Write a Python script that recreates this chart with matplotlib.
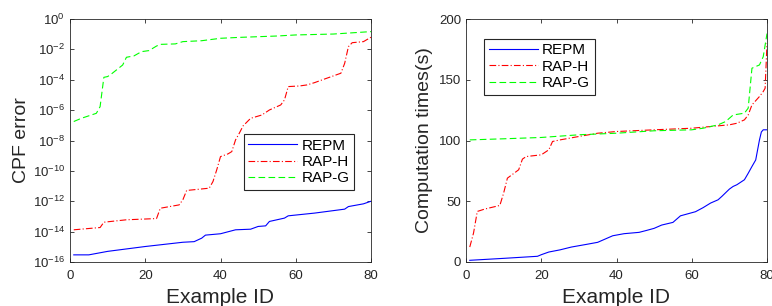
import matplotlib
matplotlib.use("Agg")
import matplotlib.pyplot as plt
import numpy as np

plt.rcParams['font.family'] = ['Liberation Sans', 'DejaVu Sans']
plt.rcParams['mathtext.fontset'] = 'custom'
plt.rcParams['mathtext.rm'] = 'Liberation Sans'
plt.rcParams['mathtext.it'] = 'Liberation Sans'

# ---- Left panel: CPF error (log10 exponents) ----
repm_err_x = [1, 5, 10, 20, 30, 33, 35, 36, 40, 44, 48, 50, 52, 53, 57, 58, 65, 73, 74, 78, 80]
repm_err_e = [-15.53, -15.53, -15.3, -14.98, -14.7, -14.66, -14.43, -14.23, -14.14, -13.88, -13.84,
              -13.66, -13.62, -13.33, -13.11, -12.96, -12.78, -12.52, -12.35, -12.17, -12.0]
raph_err_x = [1, 8, 9, 15, 23, 24, 29, 30, 31, 37, 38, 39, 40, 42, 43, 44, 45, 46, 48, 51, 53, 56,
              57, 58, 61, 63, 65, 67, 72, 73, 74, 75, 78, 80]
raph_err_e = [-13.88, -13.73, -13.38, -13.22, -13.14, -12.46, -12.24, -11.9, -11.29, -11.14, -10.7,
              -9.93, -9.06, -8.88, -8.73, -7.96, -7.52, -7.04, -6.54, -6.32, -5.99, -5.66, -5.33,
              -4.45, -4.41, -4.34, -4.19, -4.01, -3.57, -2.92, -1.82, -1.56, -1.49, -1.2]
rapg_err_x = [1, 3, 7, 8, 9, 10, 11, 14, 15, 17, 19, 21, 23, 24, 28, 30, 35, 40, 45, 55, 60, 70, 80]
rapg_err_e = [-6.75, -6.54, -6.21, -5.77, -3.84, -3.79, -3.62, -3.03, -2.52, -2.43, -2.15, -2.08,
              -1.78, -1.67, -1.64, -1.49, -1.43, -1.27, -1.21, -1.12, -1.05, -0.99, -0.83]

# ---- Right panel: computation times (s) ----
repm_t_x = [1, 10, 19, 20, 22, 25, 28, 30, 32, 35, 37, 39, 42, 46, 48, 50, 52, 55, 57, 59, 61, 63,
            65, 67, 68, 70, 71, 72, 74, 75, 76, 77, 78, 78.5, 79, 80]
repm_t_y = [1.4, 3, 4.7, 6, 8.2, 10, 12.3, 13.4, 14.5, 16.2, 18.9, 21.6, 23.3, 24.4, 26, 27.7, 30.4,
            32.6, 38, 39.7, 41.4, 44.7, 48.5, 51.2, 54, 60, 62.2, 63.6, 67.7, 73, 78.6, 84, 100.5,
            107, 108.8, 108.8]
raph_t_x = [1, 2, 3, 5, 8, 9, 10, 11, 14, 15, 16, 20, 22, 23, 25, 30, 35, 40, 50, 60, 65, 70, 72,
            74, 75, 76, 78, 79, 79.5, 80]
raph_t_y = [12.3, 23.8, 41.6, 43.6, 45.8, 46.6, 56.7, 69, 75.9, 84.7, 86.8, 88.2, 92.3, 99.2, 100.5,
            103.3, 106, 107.4, 108.8, 110.1, 111.5, 112.9, 114.2, 117, 121, 129.3, 136.2, 140.3,
            143, 180]
rapg_t_x = [1, 10, 20, 30, 40, 50, 60, 63, 67, 69, 71, 74, 75, 76, 78, 79, 80]
rapg_t_y = [100.5, 101.4, 102.5, 104.7, 106, 108, 108.8, 110.1, 112.9, 115.6, 121, 122.5, 126.6,
            159.5, 162.2, 169, 188]

labels = ['REPM', 'RAP-H', 'RAP-G']
colors = ['#0000ff', '#ff0000', '#00ff00']
styles = ['-', (0, (6, 2, 1, 2)), (0, (6, 3))]

fig = plt.figure(figsize=(7.72, 3.06), dpi=100)
ax1 = fig.add_axes([70/772, 44/306, 301/772, 243/306])
ax2 = fig.add_axes([466/772, 44/306, 301/772, 243/306])

lw = 0.8
ax1.plot(repm_err_x, 10.0**np.array(repm_err_e), color=colors[0], ls=styles[0], lw=lw, label=labels[0])
ax1.plot(raph_err_x, 10.0**np.array(raph_err_e), color=colors[1], ls=styles[1], lw=lw, label=labels[1])
ax1.plot(rapg_err_x, 10.0**np.array(rapg_err_e), color=colors[2], ls=styles[2], lw=lw, label=labels[2])
ax1.set_yscale('log')
ax1.set_ylim(1e-16, 1e0)
ax1.set_xlim(0, 80)
ax1.set_yticks([10.0**k for k in range(-16, 1, 2)])
ax1.yaxis.set_minor_locator(matplotlib.ticker.NullLocator())
ax1.set_xticks([0, 20, 40, 60, 80])
ax1.set_ylabel('CPF error', fontsize=14, color='#262626', labelpad=2)
ax1.set_xlabel('Example ID', fontsize=15, color='#262626', labelpad=4)
leg1 = ax1.legend(loc='lower right', bbox_to_anchor=(0.97, 0.265), fontsize=11, handlelength=3.2,
                  handletextpad=0.3, borderpad=0.3, labelspacing=0.15, fancybox=False,
                  edgecolor='#262626', framealpha=1)
leg1.get_frame().set_linewidth(0.8)

ax2.plot(repm_t_x, repm_t_y, color=colors[0], ls=styles[0], lw=lw, label=labels[0])
ax2.plot(raph_t_x, raph_t_y, color=colors[1], ls=styles[1], lw=lw, label=labels[1])
ax2.plot(rapg_t_x, rapg_t_y, color=colors[2], ls=styles[2], lw=lw, label=labels[2])
ax2.set_ylim(0, 200)
ax2.set_xlim(0, 80)
ax2.set_yticks([0, 50, 100, 150, 200])
ax2.set_xticks([0, 20, 40, 60, 80])
ax2.set_ylabel('Computation times(s)', fontsize=14, color='#262626', labelpad=4)
ax2.set_xlabel('Example ID', fontsize=15, color='#262626', labelpad=4)
leg2 = ax2.legend(loc='upper left', bbox_to_anchor=(0.035, 0.95), fontsize=11, handlelength=3.2,
                  handletextpad=0.3, borderpad=0.3, labelspacing=0.15, fancybox=False,
                  edgecolor='#262626', framealpha=1)
leg2.get_frame().set_linewidth(0.8)

for ax in (ax1, ax2):
    ax.tick_params(direction='in', top=True, right=True, labelsize=9.5, colors='#262626',
                   length=3, width=0.6)
    ax.tick_params(axis='x', pad=6)
    for s in ax.spines.values():
        s.set_color('#262626')
        s.set_linewidth(0.6)

fig.savefig('out.png', dpi=100)
